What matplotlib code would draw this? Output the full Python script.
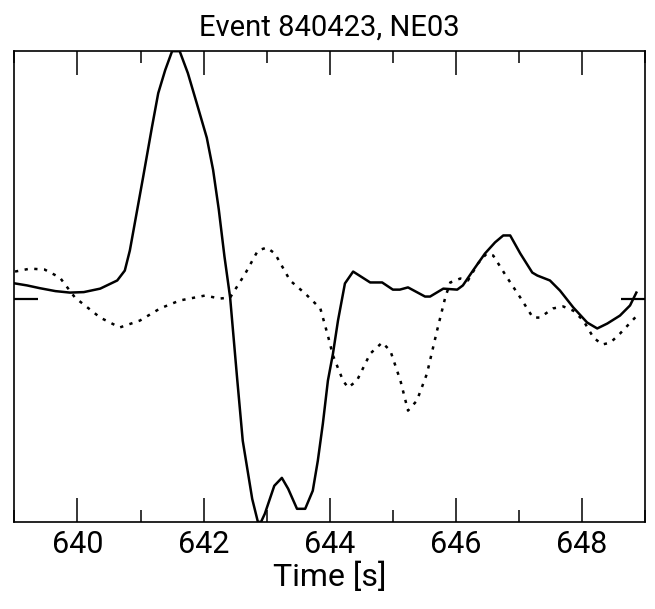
import numpy as np
import matplotlib.pyplot as plt
from matplotlib.ticker import MultipleLocator

plt.rcParams['font.family'] = ['Roboto', 'DejaVu Sans']

# Observed trace (solid), time in s, amplitude normalised to the peak
obs_t = [639.01, 639.20, 639.40, 639.65, 639.88, 640.10, 640.36, 640.63, 640.75,
         640.83, 641.04, 641.18, 641.28, 641.39, 641.50, 641.62, 641.75, 641.89,
         642.05, 642.15, 642.24, 642.33, 642.42, 642.53, 642.62, 642.77, 642.86,
         642.91, 642.97, 643.12, 643.24, 643.34, 643.48, 643.61, 643.73, 643.81,
         643.89, 643.97, 644.05, 644.13, 644.24, 644.37, 644.64, 644.83, 645.00,
         645.11, 645.24, 645.51, 645.59, 645.80, 646.02, 646.11, 646.27, 646.46,
         646.62, 646.75, 646.86, 647.02, 647.21, 647.29, 647.49, 647.65, 647.86,
         648.08, 648.24, 648.40, 648.60, 648.76, 648.86]
obs_a = [0.061, 0.053, 0.042, 0.030, 0.024, 0.026, 0.040, 0.073, 0.113,
         0.194, 0.490, 0.692, 0.830, 0.923, 1.000, 1.000, 0.911, 0.790,
         0.650, 0.520, 0.360, 0.170, 0.004, -0.320, -0.575, -0.810, -0.903,
         -0.903, -0.870, -0.757, -0.725, -0.769, -0.850, -0.850, -0.777, -0.656,
         -0.506, -0.332, -0.223, -0.089, 0.061, 0.109, 0.065, 0.065, 0.036,
         0.036, 0.045, 0.008, 0.008, 0.040, 0.036, 0.053, 0.113, 0.182,
         0.227, 0.255, 0.255, 0.182, 0.105, 0.093, 0.073, 0.032, -0.036,
         -0.097, -0.121, -0.101, -0.069, -0.028, 0.024]

# Synthetic trace (dotted)
syn_t = [639.01, 639.25, 639.48, 639.72, 639.96, 640.36, 640.67, 640.99, 641.31,
         641.62, 642.02, 642.26, 642.42, 642.66, 642.86, 643.00, 643.13, 643.37,
         643.61, 643.85, 643.97, 644.05, 644.21, 644.29, 644.43, 644.64, 644.83,
         644.96, 645.12, 645.24, 645.38, 645.54, 645.70, 645.83, 645.91, 646.07,
         646.19, 646.35, 646.43, 646.49, 646.59, 646.81, 647.02, 647.22, 647.33,
         647.54, 647.70, 647.86, 648.02, 648.18, 648.32, 648.45, 648.60, 648.87]
syn_a = [0.109, 0.121, 0.117, 0.085, 0.004, -0.077, -0.117, -0.089, -0.040,
         -0.008, 0.012, 0.000, 0.004, 0.101, 0.194, 0.206, 0.182, 0.073,
         0.020, -0.040, -0.150, -0.230, -0.332, -0.360, -0.332, -0.223, -0.178,
         -0.211, -0.332, -0.453, -0.413, -0.304, -0.130, 0.004, 0.065, 0.081,
         0.073, 0.142, 0.166, 0.182, 0.174, 0.085, 0.004, -0.077, -0.077,
         -0.040, -0.032, -0.049, -0.089, -0.158, -0.186, -0.178, -0.142, -0.069]

fig = plt.figure(figsize=(6.55, 6.09), dpi=100)
ax = fig.add_axes([0.022, 0.143, 0.963, 0.773])

ax.plot(obs_t, obs_a, color='black', lw=1.8)
ax.plot(syn_t, syn_a, color='black', lw=1.8, linestyle=(0, (1.3, 2.6)))

ax.set_xlim(639, 649)
ax.set_ylim(min(obs_a), max(obs_a))

ax.xaxis.set_major_locator(MultipleLocator(2))
ax.xaxis.set_minor_locator(MultipleLocator(1))
ax.tick_params(axis='x', which='both', direction='in', top=True, bottom=True,
               width=1.1, labelsize=22, pad=6)
ax.tick_params(axis='x', which='major', length=17)
ax.tick_params(axis='x', which='minor', length=8.5)

# zero marks on both sides
ax.set_yticks([0])
ax.tick_params(axis='y', direction='in', left=True, right=True, length=17,
               width=1.6, labelleft=False)

for s in ax.spines.values():
    s.set_linewidth(1.2)

ax.set_title('Event 840423, NE03', fontsize=21, pad=11)
ax.set_xlabel('Time [s]', fontsize=23, labelpad=2)

fig.savefig('out.png', dpi=100)
